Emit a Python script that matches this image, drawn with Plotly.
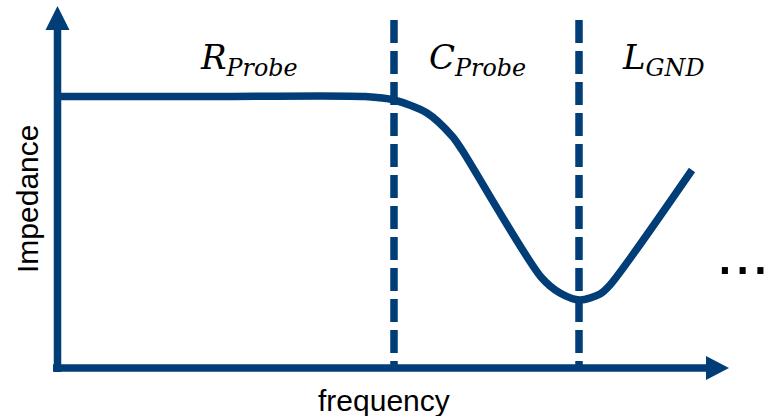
import plotly.graph_objects as go

# Conceptual impedance-vs-frequency curve (arbitrary units, origin at axes intersection)
freq = [0, 150, 305, 334, 367, 392, 402, 481, 500, 520, 540, 550, 632]
impedance = [271.5, 271.5, 271.5, 268, 255, 232, 218, 91, 75, 68, 74, 83, 198]

# Region boundaries (dashed verticals)
boundary_x = [334, 519]
boundary_top = 348

# Region labels
region_names = ["<i>R<sub>Probe</sub></i>", "<i>C<sub>Probe</sub></i>", "<i>L<sub>GND</sub></i>"]
region_label_x = [189, 417, 603]
region_label_y = 309

x_title = "frequency"
y_title = "Impedance"

BLUE = "#013e78"
LW = 7.5

fig = go.Figure()

# curve
fig.add_trace(go.Scatter(
    x=freq, y=impedance, mode="lines",
    line=dict(color=BLUE, width=LW, shape="spline", smoothing=0.8),
    hoverinfo="skip", showlegend=False,
))

# dashed boundaries
for bx in boundary_x:
    fig.add_trace(go.Scatter(
        x=[bx, bx], y=[boundary_top, 0], mode="lines",
        line=dict(color=BLUE, width=LW, dash="23px,8px"),
        hoverinfo="skip", showlegend=False,
    ))

# axes lines
fig.add_shape(type="line", x0=-2.5, y0=-4, x1=-2.5, y1=340, line=dict(color=BLUE, width=LW))
fig.add_shape(type="line", x0=-7, y0=0, x1=648, y1=0, line=dict(color=BLUE, width=LW))
# arrowheads
fig.add_shape(type="path", path="M -2.5 362 L -14.5 338 L 9.5 338 Z",
              fillcolor=BLUE, line=dict(color=BLUE, width=0))
fig.add_shape(type="path", path="M 669 0 L 646 12 L 646 -12 Z",
              fillcolor=BLUE, line=dict(color=BLUE, width=0))

for name, lx in zip(region_names, region_label_x):
    fig.add_annotation(x=lx, y=region_label_y, text=name, showarrow=False,
                       xanchor="center", yanchor="middle",
                       font=dict(family="DejaVu Serif", size=34, color="black"))

fig.add_annotation(x=324, y=-32, text=x_title, showarrow=False,
                   xanchor="center", yanchor="middle",
                   font=dict(family="Liberation Sans, Arial", size=30, color="black"))
fig.add_annotation(x=-33, y=169, text=y_title, showarrow=False, textangle=-90,
                   xanchor="center", yanchor="middle",
                   font=dict(family="Liberation Sans, Arial", size=30, color="black"))
fig.add_annotation(x=682, y=78, text="...", showarrow=False,
                   xanchor="center", yanchor="bottom",
                   font=dict(family="Liberation Sans, Arial", size=64, color="black"))

fig.update_layout(
    width=769, height=416,
    margin=dict(l=0, r=0, t=0, b=0),
    paper_bgcolor="white", plot_bgcolor="white",
    xaxis=dict(range=[-60, 709], visible=False, fixedrange=True),
    yaxis=dict(range=[-48, 368], visible=False, fixedrange=True),
    showlegend=False,
)

fig.write_html(
    "out.html",
    config={"displayModeBar": False, "staticPlot": True},
    post_script="document.body.style.margin='0';document.body.style.padding='0';document.body.style.overflow='hidden';",
)
